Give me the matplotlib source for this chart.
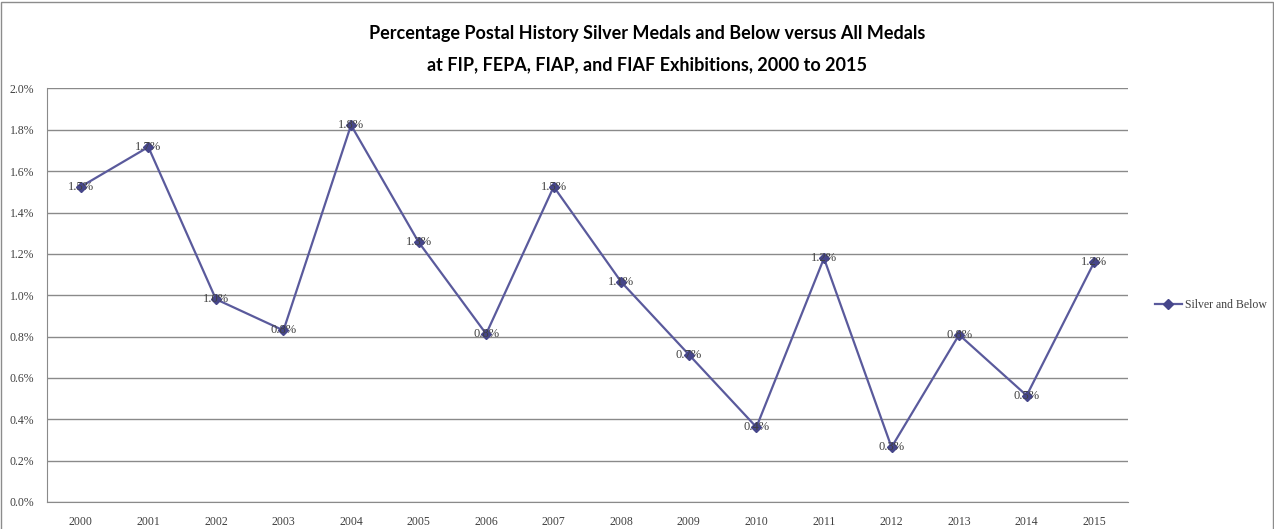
import matplotlib
matplotlib.use("Agg")
import matplotlib.pyplot as plt
from matplotlib.patches import Rectangle
from matplotlib.ticker import FuncFormatter, MultipleLocator
from matplotlib.lines import Line2D

years = ["2000", "2001", "2002", "2003", "2004", "2005", "2006", "2007",
         "2008", "2009", "2010", "2011", "2012", "2013", "2014", "2015"]
silver_and_below = [1.525, 1.717, 0.981, 0.830, 1.823, 1.257, 0.813, 1.525,
                    1.064, 0.713, 0.362, 1.179, 0.265, 0.809, 0.515, 1.160]
series_name = "Silver and Below"
title_text = ("Percentage Postal History Silver Medals and Below versus All Medals\n"
              "at FIP, FEPA, FIAP, and FIAF Exhibitions, 2000 to 2015")

serif = ["Liberation Serif", "DejaVu Serif"]
line_color = "#5a5a9c"
marker_color = "#46468a"
grid_color = "#8a8a8a"
text_color = "#404040"

fig = plt.figure(figsize=(12.74, 5.29), dpi=100)
fig.patch.set_facecolor("white")
ax = fig.add_axes([47 / 1274, 1 - 502 / 529, (1128 - 47) / 1274, (502 - 88.5) / 529])

x = list(range(len(years)))
ax.plot(x, silver_and_below, color=line_color, lw=1.6, marker="D", ms=5.5,
        mfc=marker_color, mec=marker_color, zorder=3)
for xi, v in zip(x, silver_and_below):
    ax.text(xi, v, f"{v:.1f}%", ha="center", va="center", fontsize=9,
            family=serif, color=text_color, zorder=4)

ax.set_xlim(-0.5, len(years) - 0.5)
ax.set_ylim(0, 2.0)
ax.yaxis.set_major_locator(MultipleLocator(0.2))
ax.yaxis.set_major_formatter(FuncFormatter(lambda v, p: f"{v:.1f}%"))
ax.set_xticks(x)
ax.set_xticklabels(years)
ax.grid(axis="y", color=grid_color, lw=1.0)
ax.set_axisbelow(True)
for s in ["top", "right"]:
    ax.spines[s].set_visible(False)
ax.spines["left"].set_color(grid_color)
ax.spines["bottom"].set_color(grid_color)
ax.tick_params(axis="both", length=0, labelsize=8.5, labelcolor=text_color)
ax.tick_params(axis="y", pad=9)
ax.tick_params(axis="x", pad=10)
for lab in ax.get_xticklabels() + ax.get_yticklabels():
    lab.set_family(serif)

fig.text(0.508, 1 - 49 / 529, title_text, ha="center", va="center",
         fontsize=13, fontweight="bold", family=["Lato", "DejaVu Sans"],
         color="black", linespacing=2.0)

handle = Line2D([], [], color=line_color, lw=1.6, marker="D", ms=5.5,
                mfc=marker_color, mec=marker_color)
fig.legend([handle], [series_name], loc="center left",
           bbox_to_anchor=(1144 / 1274, 1 - 305 / 529), frameon=False,
           prop={"family": serif, "size": 8.5}, handlelength=2.3,
           handletextpad=0.3, labelcolor=text_color)

fig.patches.append(Rectangle((1 / 1274, -0.01), 1 - 2.5 / 1274, 1 - 1.5 / 529 + 0.01,
                             transform=fig.transFigure, fill=False,
                             edgecolor="#8c8c8c", lw=1.0))

fig.savefig("out.png", dpi=100, facecolor="white")
